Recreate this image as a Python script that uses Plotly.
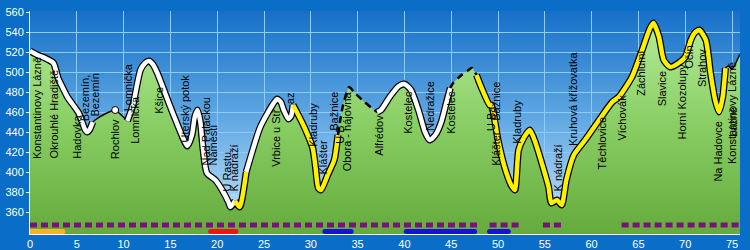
import base64
import plotly.graph_objects as go

# ---------------- data ----------------
km = [0.0, 0.8, 1.6, 2.5, 3.0, 3.3, 4.0, 5.2, 5.9, 6.1, 6.4, 6.7, 7.1, 8.0, 9.1, 9.4,
      10.4, 11.0, 11.8, 12.3, 12.7, 13.1, 13.6, 15.0, 16.3, 16.8, 17.3, 17.6, 17.9, 18.2,
      18.5, 18.9, 19.8, 20.4, 21.2, 21.4, 21.9, 22.4, 23.1, 24.6, 25.9, 26.4, 26.8, 27.1,
      27.6, 27.9, 28.1, 28.5, 29.3, 30.2, 30.5, 30.8, 31.1, 31.8, 32.5, 32.9, 33.4, 34.1,
      34.6, 35.5, 36.5, 37.1, 37.5, 38.5, 39.4, 40.0, 40.7, 41.5, 42.2, 42.7, 43.3, 43.9,
      44.5, 44.9, 45.2, 46.1, 46.7, 47.2, 47.7, 48.2, 49.1, 49.3, 50.0, 50.7, 51.4, 51.8,
      52.2, 52.8, 53.4, 53.9, 54.8, 55.4, 55.7, 56.3, 56.8, 57.3, 58.1, 59.3, 60.8, 62.2,
      62.9, 64.3, 65.4, 66.2, 66.6, 67.2, 67.7, 68.4, 69.3, 70.0, 70.6, 71.0, 71.5, 72.2,
      72.7, 73.2, 73.6, 74.0, 74.3, 74.6, 75.0, 75.85]
elev = [521, 517, 514, 509, 494, 488, 475, 459, 442, 440, 443, 450, 453, 458, 462, 460,
        451, 467, 502, 509, 511, 508, 499, 465, 435, 426, 437, 455, 462, 450,
        422, 399, 392, 384, 370, 365, 371, 365, 400, 445, 467, 473, 470, 462,
        453, 456, 467, 460, 445, 424, 405, 384, 382, 397, 412, 437, 465, 485,
        480, 472, 464, 460, 462, 476, 486, 488, 482, 462, 440, 432, 437, 449,
        470, 484, 489, 497, 501, 504, 497, 485, 467, 467, 432, 405, 387, 382,
        422, 435, 442, 432, 405, 385, 369, 372, 367, 392, 417, 432, 452, 470,
        475, 495, 522, 543, 549, 535, 512, 505, 509, 515, 532, 539, 542, 532,
        499, 472, 460, 475, 504, 506, 503, 518]

seg_bounds = [0, 6.7, 10.4, 21.9, 23.1, 28.1, 32.9, 37.1, 44.9, 47.7, 74.3, 75.85]
seg_styles = ['white', 'thin', 'white', 'yellow', 'white', 'yellow', 'dash', 'white',
              'dash', 'yellow', 'thin']

point_km = [9.1]
point_elev = [462]

label_names = ["Konstantinovy Lázně", "Okrouhlé Hradiště", "Hadovka", "Bezemín,", "Bezemín",
               "Rochlov", "Lomnička", "Lomnička", "Kšice", "Úterský potok", "Nad Palackou",
               "Náměstí", "U Rastu", "K nádraží", "Vrbice u Stř", "az", "Kladruby", "Klášter",
               "Bažnice", "U B", "Obora - hájovna", "Alfrédov", "Kostelec", "Nedražice",
               "Kostelec", "U Ba", "Bažnice", "Klášter", "Kladruby", "K nádraží",
               "Kruhová křižovatka", "Těchlovice", "Víchovák", "Záchlumí", "Slavice",
               "Horní Kozolupy", "Očín", "Strahov", "Na Hadovce", "Konstantinovy Lázně",
               "Lázně"]
label_km = [0.75, 2.46, 5.0, 5.9, 6.85, 9.1, 10.5, 11.2, 13.7, 16.6, 18.7,
            19.45, 21.0, 21.7, 26.2, 27.8, 30.2, 31.3,
            32.4, 33.1, 33.9, 37.2, 40.3, 42.7,
            44.9, 49.2, 49.7, 49.7, 52.0, 56.3,
            58.0, 61.1, 63.2, 65.2, 67.5,
            69.7, 70.3, 71.8, 73.4, 75.0,
            75.1]
label_base = [412, 412, 412, 450, 454, 412, 460, 427, 457, 429, 405,
              405, 379, 379, 404, 467, 424, 397,
              440, 427, 400, 415, 437, 440,
              437, 440, 450, 405, 427, 379,
              425, 402, 430, 475, 465,
              432, 502, 484, 389, 407,
              434]

x_ticks = list(range(0, 80, 5))
y_ticks = list(range(360, 580, 20))

purple_runs = [(0, 47.9), (49.1, 52.3), (54.8, 56.8), (63.2, 75.9)]
bar_runs = [(0, 3.5, "orange"), (19.3, 22.0, "red"), (31.5, 34.3, "blue"),
            (40.2, 47.5, "blue"), (49.1, 51.1, "blue")]
purple_level = 347
bar_level = 340.5

X_RANGE = [0, 75.85]
Y_RANGE = [338, 561]

# ---------------- figure ----------------
fig = go.Figure()

# profile fill with vertical gradient
fig.add_trace(go.Scatter(
    x=km, y=elev, mode="lines", line=dict(width=0, color="rgba(0,0,0,0)", shape="spline", smoothing=0.6),
    fill="tozeroy",
    fillgradient=dict(type="vertical",
                      colorscale=[[0, "rgb(100,170,60)"], [0.5, "rgb(135,205,98)"],
                                  [1, "rgb(180,236,150)"]],
                      start=Y_RANGE[0], stop=550),
    hoverinfo="skip", showlegend=False))

# labels (annotations) under the line
for name, xk, yb in zip(label_names, label_km, label_base):
    fig.add_annotation(x=xk, y=yb, text=name, textangle=-90, showarrow=False,
                       xanchor="center", yanchor="bottom", borderpad=0,
                       font=dict(family="Liberation Sans, Arial", size=11, color="black"))


def seg_points(a, b):
    xs, ys = [], []
    for xv, yv in zip(km, elev):
        if a - 1e-9 <= xv <= b + 1e-9:
            xs.append(xv)
            ys.append(yv)
    return xs, ys


segs = []
for i, st in enumerate(seg_styles):
    xs, ys = seg_points(seg_bounds[i], seg_bounds[i + 1])
    segs.append((st, xs, ys))

LS = dict(shape="spline", smoothing=0.6)
# outlines first
for st, xs, ys in segs:
    if st in ("white", "yellow"):
        fig.add_trace(go.Scatter(x=xs, y=ys, mode="lines",
                                 line=dict(color="black", width=7, **LS),
                                 hoverinfo="skip", showlegend=False))
for st, xs, ys in segs:
    if st == "white":
        line = dict(color="white", width=4.5, **LS)
    elif st == "yellow":
        line = dict(color="rgb(255,240,0)", width=4.5, **LS)
    elif st == "dash":
        line = dict(color="black", width=2.5, dash="7px,5px", **LS)
    else:
        line = dict(color="black", width=1.5, **LS)
    fig.add_trace(go.Scatter(x=xs, y=ys, mode="lines", line=line,
                             hoverinfo="skip", showlegend=False))

fig.add_trace(go.Scatter(x=point_km, y=point_elev, mode="markers",
                         marker=dict(color="white", size=7, line=dict(color="black", width=1)),
                         hoverinfo="skip", showlegend=False))

# purple dotted rows
for a, b in purple_runs:
    fig.add_trace(go.Scatter(x=[a, b], y=[purple_level, purple_level], mode="lines",
                             line=dict(color="rgb(120,20,120)", width=5, dash="7px,4px"),
                             hoverinfo="skip", showlegend=False))

bar_colors = {"orange": "rgb(245,180,40)", "red": "rgb(240,20,20)", "blue": "rgb(20,20,215)"}
for a, b, c in bar_runs:
    fig.add_trace(go.Scatter(x=[a, b], y=[bar_level, bar_level], mode="lines+markers",
                             line=dict(color=bar_colors[c], width=5),
                             marker=dict(color=bar_colors[c], size=5),
                             hoverinfo="skip", showlegend=False))

svg = ('<svg xmlns="http://www.w3.org/2000/svg" width="10" height="100" preserveAspectRatio="none">'
       '<defs><linearGradient id="g" x1="0" y1="0" x2="0" y2="1">'
       '<stop offset="0" stop-color="rgb(22,112,200)"/>'
       '<stop offset="0.5" stop-color="rgb(100,170,228)"/>'
       '<stop offset="1" stop-color="rgb(205,232,250)"/>'
       '</linearGradient></defs><rect width="10" height="100" fill="url(#g)"/></svg>')
src = "data:image/svg+xml;base64," + base64.b64encode(svg.encode()).decode()

fig.update_layout(
    width=750, height=250,
    margin=dict(l=30, r=10, t=11, b=16, autoexpand=False),
    paper_bgcolor="rgb(10,110,200)",
    plot_bgcolor="rgb(100,170,228)",
    showlegend=False,
    images=[dict(source=src, xref="paper", yref="paper", x=0, y=1, sizex=1, sizey=1,
                 sizing="stretch", layer="below", xanchor="left", yanchor="top")],
    xaxis=dict(range=X_RANGE, tickvals=x_ticks, showgrid=True, automargin=False,
               gridcolor="rgb(140,205,255)", gridwidth=1, zeroline=False,
               showline=True, linecolor="white", linewidth=1,
               ticks="", ticklen=0, ticklabelstandoff=0,
               tickfont=dict(family="Liberation Sans, Arial", size=11, color="white"),
               fixedrange=True),
    yaxis=dict(range=Y_RANGE, tickvals=y_ticks, showgrid=True, automargin=False,
               gridcolor="rgb(140,205,255)", gridwidth=1, zeroline=False,
               showline=True, linecolor="white", linewidth=1,
               ticks="outside", ticklen=3, tickcolor="white", ticklabelstandoff=0,
               tickfont=dict(family="Liberation Sans, Arial", size=11, color="white"),
               fixedrange=True),
)

fig.write_html("out.html")
